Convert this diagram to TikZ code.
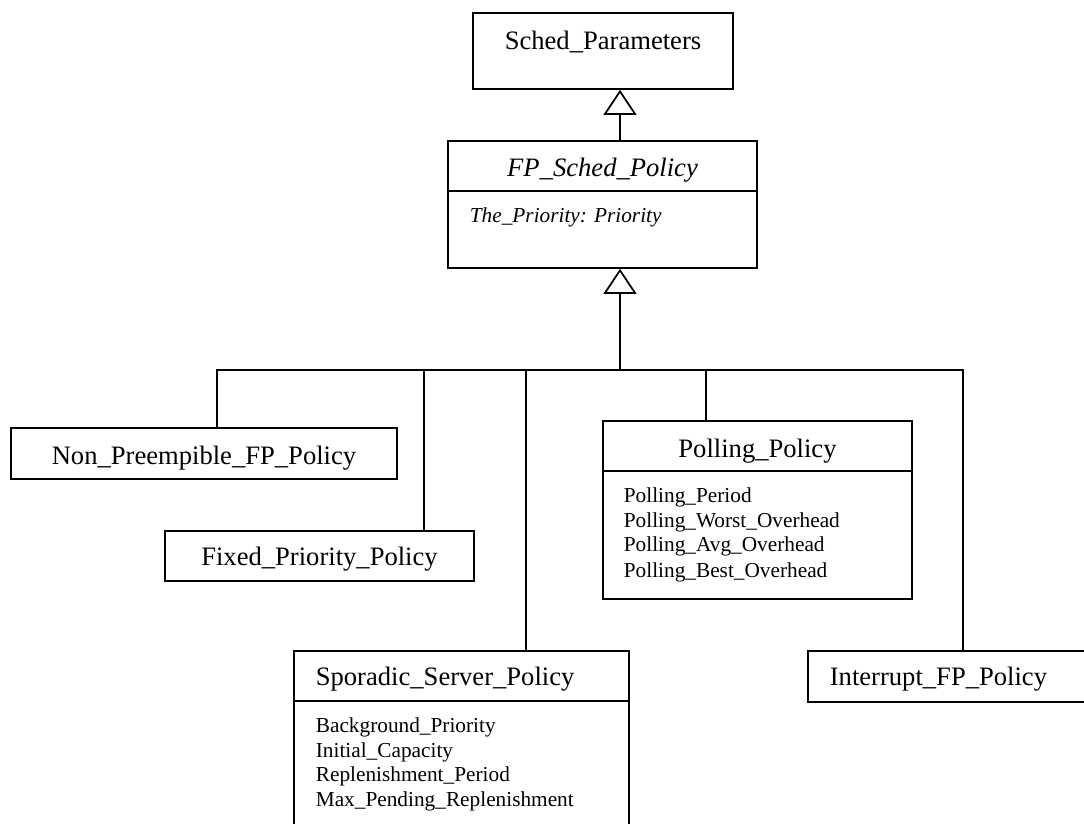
\documentclass[tikz,border=0pt]{standalone}
\usepackage{fontspec}
\setmainfont{Liberation Serif}
\usetikzlibrary{arrows.meta}
\begin{document}
\begin{tikzpicture}[x=1pt,y=-1pt,line width=1.7pt,
  classbox/.style={draw, rectangle, inner sep=0pt},
  title/.style={inner sep=0pt, font=\fontsize{26.6}{32}\selectfont},
  attr/.style={inner sep=0pt, anchor=base west, font=\fontsize{21.3}{25}\selectfont},
  gen/.style={-{Triangle[open,length=25pt,width=33pt]}},
  link/.style={line cap=rect}]
\useasboundingbox (0,0) rectangle (1084,823);
\clip (0,0) rectangle (1084,823);

% superclasses
\node[classbox, minimum width=260pt, minimum height=76pt] (sched) at (603,51) {};
\node[title, anchor=base] (schedname) at (603,49) {Sched\_Parameters};

\node[classbox, minimum width=309pt, minimum height=127pt] (fp) at (602.5,204.5) {};
\draw ([yshift=-51pt]fp.north west) -- ([yshift=-51pt]fp.north east);
\node[title, anchor=base, font=\fontsize{26.6}{32}\selectfont\itshape] (fpname) at (602.5,176) {FP\_Sched\_Policy};
\node[attr, font=\fontsize{21.3}{25}\selectfont\itshape] (fpattr) at (469,222) {The\_Priority: Priority};

% subclasses
\node[classbox, minimum width=386pt, minimum height=51pt] (nonpre) at (204,453.5) {};
\node[title, anchor=base] (nonprename) at (204,464) {Non\_Preempible\_FP\_Policy};

\node[classbox, minimum width=309pt, minimum height=50pt] (fixed) at (319.5,556) {};
\node[title, anchor=base] (fixedname) at (319.5,565) {Fixed\_Priority\_Policy};

\node[classbox, minimum width=309pt, minimum height=178pt] (poll) at (757.5,510) {};
\draw ([yshift=-51pt]poll.north west) -- ([yshift=-51pt]poll.north east);
\node[title, anchor=base] (pollname) at (757.5,457) {Polling\_Policy};
\node[attr] (poll1) at (623,502) {Polling\_Period};
\node[attr] (poll2) at (623,527) {Polling\_Worst\_Overhead};
\node[attr] (poll3) at (623,551.5) {Polling\_Avg\_Overhead};
\node[attr] (poll4) at (623,577) {Polling\_Best\_Overhead};

\node[classbox, minimum width=335pt, minimum height=189pt] (spor) at (461.5,745.5) {};
\draw ([yshift=-51pt]spor.north west) -- ([yshift=-51pt]spor.north east);
\node[title, anchor=base west] (sporname) at (315,685) {Sporadic\_Server\_Policy};
\node[attr] (spor1) at (315,732) {Background\_Priority};
\node[attr] (spor2) at (315,757) {Initial\_Capacity};
\node[attr] (spor3) at (315,781) {Replenishment\_Period};
\node[attr] (spor4) at (315,806) {Max\_Pending\_Replenishment};

\node[classbox, minimum width=292pt, minimum height=51pt] (intr) at (954,676.5) {};
\node[title, anchor=base west] (intrname) at (829,685) {Interrupt\_FP\_Policy};

% generalization connectors
\coordinate (hub) at (620,370);
\coordinate (jnon) at (217,370);
\coordinate (jfix) at (424,370);
\coordinate (jspo) at (526,370);
\coordinate (jpol) at (706,370);
\coordinate (jint) at (963,370);

\draw[gen] (fp.north -| hub) -- (sched.south -| hub);
\draw[gen] (hub) -- (fp.south -| hub);
\draw[link] (jnon) -- (jint);
\draw (jnon) -- (jnon |- nonpre.north);
\draw (jfix) -- (jfix |- fixed.north);
\draw (jspo) -- (jspo |- spor.north);
\draw (jpol) -- (jpol |- poll.north);
\draw (jint) -- (jint |- intr.north);
\end{tikzpicture}
\end{document}
